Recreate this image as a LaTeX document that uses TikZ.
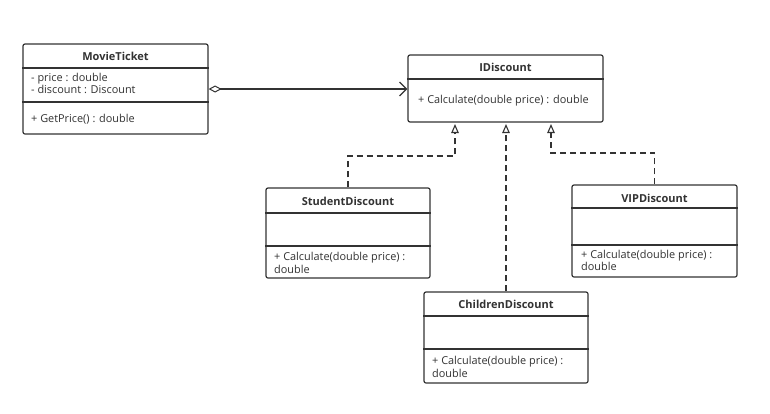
\documentclass[tikz,border=0pt]{standalone}
\usepackage{fontspec}
\setmainfont{Open Sans}
\usetikzlibrary{arrows.meta}
\definecolor{ink}{HTML}{333333}
\tikzset{
  x=1pt,y=-1pt,
  cls/.style={draw=ink,line width=1.2pt,rounded corners=2pt,fill=white,inner sep=0pt},
  sep/.style={draw=ink,line width=1.2pt},
  ttl/.style={font=\fontsize{11}{12}\selectfont\bfseries,text=ink,inner sep=0pt},
  mem/.style={font=\fontsize{10.9}{12.5}\selectfont,text=ink,inner sep=0pt,anchor=west,align=left},
  real/.style={draw=ink,line width=1.2pt,dashed,dash pattern=on 6pt off 4pt,
    -{Triangle[open,length=9pt,width=7.5pt,line width=1.1pt,sep=0pt]}},
}
\begin{document}
\begin{tikzpicture}
\useasboundingbox (0,0) rectangle (770,413);
% classes
\node[cls,minimum width=185pt,minimum height=90pt] (mt) at (115.5,89) {};
\node[cls,minimum width=195pt,minimum height=67pt] (id) at (505.5,88.5) {};
\node[cls,minimum width=164pt,minimum height=90pt] (sd) at (348,233) {};
\node[cls,minimum width=164pt,minimum height=91pt] (cd) at (506,337.5) {};
\node[cls,minimum width=165pt,minimum height=92pt] (vd) at (654.5,231) {};
% separators
\draw[sep] (mt.west |- 0,68) -- (mt.east |- 0,68);
\draw[sep] (mt.west |- 0,102) -- (mt.east |- 0,102);
\draw[sep] (id.west |- 0,79) -- (id.east |- 0,79);
\draw[sep] (sd.west |- 0,213) -- (sd.east |- 0,213);
\draw[sep] (sd.west |- 0,246) -- (sd.east |- 0,246);
\draw[sep] (cd.west |- 0,316) -- (cd.east |- 0,316);
\draw[sep] (cd.west |- 0,349) -- (cd.east |- 0,349);
\draw[sep] (vd.west |- 0,208) -- (vd.east |- 0,208);
\draw[sep] (vd.west |- 0,245) -- (vd.east |- 0,245);
% texts
\node[ttl] (mtt) at (115.5,56.5) {MovieTicket};
\node[mem] (mta) at (31,83.5) {- price : double\\- discount : Discount};
\node[mem] (mtm) at (31,119) {+ GetPrice() : double};
\node[ttl] (idt) at (505.5,67) {IDiscount};
\node[mem] (idm) at (418,101) {+ Calculate(double price) : double};
\node[ttl] (sdt) at (348,201) {StudentDiscount};
\node[mem] (sdm) at (274,263) {+ Calculate(double price) :\\double};
\node[ttl] (cdt) at (506,304) {ChildrenDiscount};
\node[mem] (cdm) at (432,367) {+ Calculate(double price) :\\double};
\node[ttl] (vdt) at (654.5,198) {VIPDiscount};
\node[mem] (vdm) at (581,260.5) {+ Calculate(double price) :\\double};
% association
\draw[ink,line width=1.2pt,
  {Diamond[open,length=13pt,width=7pt,line width=1pt]}-{Straight Barb[length=7pt,width=14pt,line width=1.2pt]}]
  (mt.east |- 0,89) -- (id.west |- 0,89);
% realizations
\coordinate (t1) at (455,124);
\coordinate (t2) at (506,124);
\coordinate (t3) at (551,124);
\draw[real] (sd.north) |- (455,156) -- (t1);
\draw[real] (cd.north) -- (t2);
\draw[real] (vd.north) |- (551,153) -- (t3);
\end{tikzpicture}
\end{document}
